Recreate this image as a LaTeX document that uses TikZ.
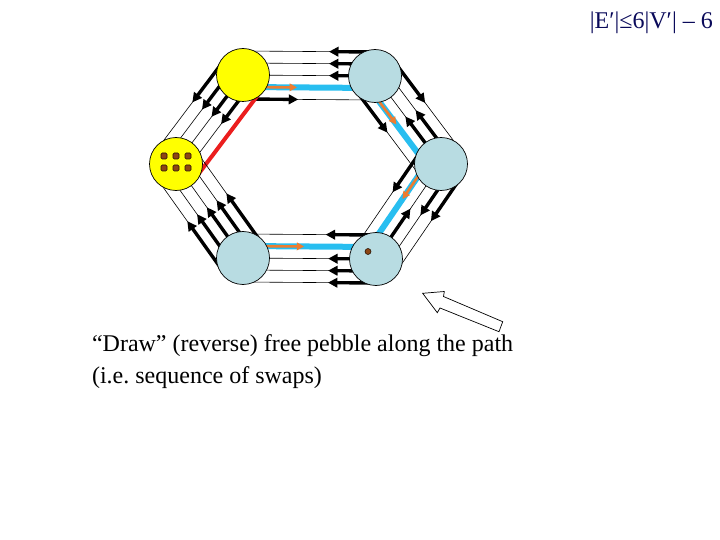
\documentclass[tikz,border=0pt]{standalone}
\usepackage{fontspec}
\setmainfont{Liberation Serif}
\usetikzlibrary{calc,arrows.meta,backgrounds}
\definecolor{ylw}{RGB}{255,255,0}
\definecolor{lblue}{RGB}{184,220,226}
\definecolor{cyanc}{RGB}{40,190,240}
\definecolor{orng}{RGB}{237,125,49}
\definecolor{redc}{RGB}{235,30,30}
\definecolor{brwn}{RGB}{140,70,20}
\definecolor{navy}{RGB}{10,10,90}
\newcommand{\pseg}[6]{\draw[#1] ($(#2)!#5!(#3)!#4pt!90:(#3)$) -- ($(#2)!#6!(#3)!#4pt!90:(#3)$);}
\newcommand{\bund}[2]{\foreach \k in {-24,-12,0,12,24}{\draw[bline] ($(#1)!\k pt!90:(#2)$) -- ($(#2)!\k pt!-90:(#1)$);}}
\begin{document}
\frenchspacing
\begin{tikzpicture}[x=1pt,y=-1pt,
  vnode/.style={circle,draw=black,line width=0.7pt,minimum size=53pt,inner sep=0pt},
  ynode/.style={vnode,fill=ylw},
  bnode/.style={vnode,fill=lblue},
  bline/.style={draw=black,line width=0.6pt},
  barr/.style={draw=black,line width=3.4pt,-{Triangle[length=9.5pt,width=9.5pt]}},
  oarr/.style={draw=orng,line width=2.6pt,-{Triangle[length=7.5pt,width=7.5pt]}},
  cyanl/.style={draw=cyanc,line width=6pt},
  redl/.style={draw=redc,line width=4pt},
  pebble/.style={fill=brwn,draw=black!70!brwn,line width=0.6pt,rounded corners=1.2pt},
  captxt/.style={anchor=base west,font=\fontsize{24}{29}\selectfont}]
\useasboundingbox (0,0) rectangle (720,540);
\node[ynode] (A) at (243,75) {};
\node[bnode] (B) at (375,76) {};
\node[bnode] (C) at (441,164) {};
\node[bnode] (D) at (376,259) {};
\node[bnode] (E) at (243,258) {};
\node[ynode] (F) at (176,164) {};
\begin{pgfonlayer}{background}
% A-B
\bund{A}{B}
\pseg{cyanl}{A}{B}{-12}{0.02}{0.98}
\pseg{oarr}{A}{B}{-12}{0.12}{0.41}
\pseg{barr}{A}{B}{-24}{0.1}{0.42}
\pseg{barr}{A}{B}{24}{0.97}{0.65}
\pseg{barr}{A}{B}{12}{0.95}{0.65}
\pseg{barr}{A}{B}{0}{0.95}{0.65}
% A-F
\bund{A}{F}
\pseg{redl}{A}{F}{24}{0.02}{0.98}
\foreach \k in {12,0,-12,-24}{\pseg{barr}{A}{F}{\k}{0.05}{0.47}}
% F-E
\bund{F}{E}
\foreach \k in {24,12,0,-12,-24}{\pseg{barr}{F}{E}{\k}{0.95}{0.46}}
% E-D
\bund{E}{D}
\pseg{cyanl}{E}{D}{12}{0.02}{0.98}
\pseg{oarr}{E}{D}{12}{0.12}{0.46}
\pseg{barr}{E}{D}{24}{0.95}{0.62}
\foreach \k in {0,-12,-24}{\pseg{barr}{E}{D}{\k}{0.95}{0.64}}
% B-C
\bund{B}{C}
\pseg{cyanl}{B}{C}{-12}{0.02}{0.98}
\pseg{oarr}{B}{C}{-12}{0.12}{0.47}
\pseg{barr}{B}{C}{-24}{0.05}{0.48}
\pseg{barr}{B}{C}{0}{0.95}{0.46}
\pseg{barr}{B}{C}{12}{0.95}{0.47}
\pseg{barr}{B}{C}{24}{0.05}{0.47}
% C-D
\bund{C}{D}
\pseg{cyanl}{C}{D}{-12}{0.02}{0.98}
\pseg{oarr}{C}{D}{-12}{0.12}{0.44}
\pseg{barr}{C}{D}{-24}{0.05}{0.44}
\pseg{barr}{C}{D}{0}{0.95}{0.47}
\pseg{barr}{C}{D}{12}{0.05}{0.47}
\pseg{barr}{C}{D}{24}{0.05}{0.46}
\end{pgfonlayer}
% pebbles on F
\foreach \px in {164,176,188}{\foreach \py in {156,168}{\draw[pebble] (\px-3,\py-3) rectangle (\px+3,\py+3);}}
% free pebble on D
\filldraw[fill=brwn,draw=black!70!brwn,line width=0.6pt] (368,251.5) circle (3pt);
% hollow block arrow
\draw[fill=white,line width=0.7pt,line join=miter] (422.7,293.3) -- (444.3,291.5) -- (443.5,296.5) -- (502.7,321.7) -- (499,331.7) -- (440,308) -- (437.3,312.7) -- cycle;
% texts
\node[captxt] (cap1) at (88.5,351.5) {“Draw” (reverse) free pebble along the path};
\node[captxt] (cap2) at (88.5,383) {(i.e. sequence of swaps)};
\node[anchor=base east,font=\fontsize{24}{28}\selectfont,text=navy,inner sep=0pt] (eq) at (713,28.5) {|E′|≤6|V′| – 6};
\end{tikzpicture}
\end{document}
